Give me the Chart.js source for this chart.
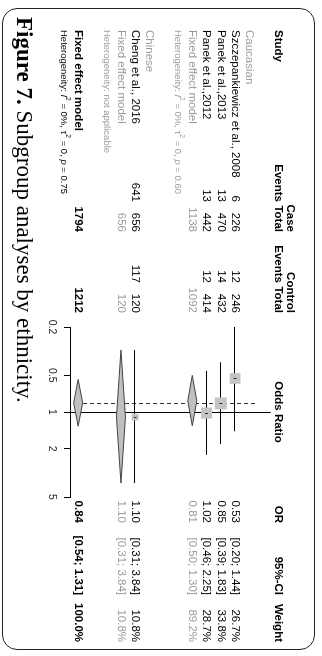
<!DOCTYPE html>
<html>
<head>
<meta charset="utf-8">
<script src="https://cdn.jsdelivr.net/npm/chart.js@4.4.1/dist/chart.umd.min.js"></script>
<style>
  html, body { margin: 0; padding: 0; background: #fff; overflow: hidden; }
  #page { position: absolute; left: 0; top: 0; width: 656px; height: 322px;
          transform-origin: 0 0; transform: translate(322px, 0) rotate(90deg); }
  #forest { position: absolute; left: 0; top: 0; }
  #frame { position: absolute; left: 8px; top: 7px; width: 642px; height: 313px; box-sizing: border-box;
           border: 1.5px solid #222; border-radius: 15px; }
  #caption { position: absolute; left: 17px; top: 286px; font-family: "Liberation Serif", serif;
             font-size: 23px; line-height: 23px; white-space: nowrap; color: #000; }
</style>
</head>
<body>
<div id="page">
  <canvas id="forest" width="656" height="322"></canvas>
  <div id="frame"></div>
  <div id="caption"><b>Figure 7.</b> Subgroup analyses by ethnicity.</div>
</div>
<script>
document.addEventListener("DOMContentLoaded", function () {

    // studies
    const studies = ["Szczepankiewicz et al., 2008", "Panek et al.,2013", "Panek et al.,2012", "Cheng et al., 2016"];
    const ethnicity = ["Caucasian", "Caucasian", "Caucasian", "Chinese"];
    const caseEvents = [6, 13, 13, 641];
    const caseTotal = [226, 470, 442, 656];
    const controlEvents = [12, 14, 12, 117];
    const controlTotal = [246, 432, 414, 120];
    const studyOR = [0.53, 0.85, 1.02, 1.10];
    const studyLower = [0.20, 0.39, 0.46, 0.31];
    const studyUpper = [1.44, 1.83, 2.25, 3.84];
    const studyWeight = [26.7, 33.8, 28.7, 10.8];

    // subgroups (fixed effect)
    const groups = ["Caucasian", "Chinese"];
    const groupCaseTotal = [1138, 656];
    const groupControlTotal = [1092, 120];
    const groupOR = [0.81, 1.10];
    const groupLower = [0.50, 0.31];
    const groupUpper = [1.30, 3.84];
    const groupWeight = [89.2, 10.8];
    const groupI2 = ["0%", null];
    const groupTau2 = ["0", null];
    const groupP = ["0.60", null];

    // overall (fixed effect)
    const totalCase = 1794;
    const totalControl = 1212;
    const totalOR = 0.84;
    const totalLower = 0.54;
    const totalUpper = 1.31;
    const totalWeight = 100.0;
    const totalI2 = "0%";
    const totalTau2 = "0";
    const totalP = "0.75";

    const xTicks = [0.2, 0.5, 1, 2, 5];
    const xTickLabels = ["0.2", "0.5", "1", "2", "5"];

    const SANS = '"Liberation Sans", Arial, sans-serif';
    const GREY = "#9a9a9a";

    // row order
    const rows = [];
    const studyRow = [];
    let r = 0;
    groups.forEach(function (g, gi) {
        rows.push({ kind: "group", r: r++, gi: gi });
        studies.forEach(function (s, i) {
            if (ethnicity[i] !== g) return;
            studyRow[i] = r;
            rows.push({ kind: "study", r: r++, i: i });
        });
        rows.push({ kind: "groupFE", r: r++, gi: gi });
        rows.push({ kind: "groupHet", r: r++, gi: gi });
        r++;
    });
    const totalRow = r;
    rows.push({ kind: "total", r: r++ });
    rows.push({ kind: "totalHet", r: r++ });

    const fmt2 = v => v.toFixed(2);
    const ciText = (lo, hi) => "[" + fmt2(lo) + "; " + fmt2(hi) + "]";
    const pct = v => v.toFixed(1) + "%";

    function text(ctx, str, x, y, align, font, color) {
        ctx.font = font;
        ctx.fillStyle = color;
        ctx.textAlign = align;
        ctx.textBaseline = "middle";
        ctx.fillText(str, x, y);
    }

    function hetText(ctx, x, y, i2, tau2, p, color) {
        const size = 9.5;
        let parts;
        if (i2 === null) {
            parts = [["Heterogeneity: not applicable", ""]];
        } else {
            parts = [["Heterogeneity: ", ""], ["I", "italic "], ["2", "sup"], [" = " + i2 + ", ", ""],
                     ["\u03c4", ""], ["2", "sup"], [" = " + tau2 + ", ", ""], ["p", "italic "], [" = " + p, ""]];
        }
        ctx.fillStyle = color;
        ctx.textAlign = "left";
        ctx.textBaseline = "middle";
        let cx = x;
        parts.forEach(function (pt) {
            if (pt[1] === "sup") {
                ctx.font = (size * 0.7) + "px " + SANS;
                ctx.fillText(pt[0], cx, y - 3.5);
            } else {
                ctx.font = pt[1] + size + "px " + SANS;
                ctx.fillText(pt[0], cx, y);
            }
            cx += ctx.measureText(pt[0]).width;
        });
    }

    function diamond(ctx, xs, yc, lo, est, hi, h) {
        ctx.beginPath();
        ctx.moveTo(xs.getPixelForValue(lo), yc);
        ctx.lineTo(xs.getPixelForValue(est), yc - h);
        ctx.lineTo(xs.getPixelForValue(hi), yc);
        ctx.lineTo(xs.getPixelForValue(est), yc + h);
        ctx.closePath();
        ctx.fillStyle = "#c0c0c0";
        ctx.fill();
        ctx.strokeStyle = "#444";
        ctx.lineWidth = 1;
        ctx.stroke();
    }

    // column anchors (right aligned unless noted)
    const COL = { study: 30, caseEv: 202, caseTot: 232, ctrlEv: 283, ctrlTot: 313, or: 523, ci: 595, w: 642 };

    const forestPlugin = {
        id: "forest",
        beforeDatasetsDraw: function (chart) {
            const ctx = chart.ctx;
            const xs = chart.scales.x;
            const ys = chart.scales.y;
            ctx.save();

            // line of no effect
            const x1 = Math.round(xs.getPixelForValue(1)) + 0.5;
            ctx.strokeStyle = "#000";
            ctx.lineWidth = 1;
            ctx.beginPath();
            ctx.moveTo(x1, ys.getPixelForValue(-1.5));
            ctx.lineTo(x1, chart.chartArea.bottom);
            ctx.stroke();

            // overall fixed effect estimate
            const xf = Math.round(xs.getPixelForValue(totalOR)) + 0.5;
            ctx.strokeStyle = "#333";
            ctx.setLineDash([4, 3]);
            ctx.beginPath();
            ctx.moveTo(xf, ys.getPixelForValue(-0.4));
            ctx.lineTo(xf, ys.getPixelForValue(totalRow - 0.35));
            ctx.stroke();
            ctx.setLineDash([]);

            // confidence intervals
            ctx.strokeStyle = "#000";
            studies.forEach(function (s, i) {
                const y = Math.round(ys.getPixelForValue(studyRow[i])) + 0.5;
                ctx.beginPath();
                ctx.moveTo(xs.getPixelForValue(studyLower[i]), y);
                ctx.lineTo(xs.getPixelForValue(studyUpper[i]), y);
                ctx.stroke();
            });

            // diamonds
            rows.forEach(function (row) {
                const y = ys.getPixelForValue(row.r);
                if (row.kind === "groupFE") {
                    const g = row.gi;
                    diamond(ctx, xs, y, groupLower[g], groupOR[g], groupUpper[g], 4.5);
                } else if (row.kind === "total") {
                    diamond(ctx, xs, y, totalLower, totalOR, totalUpper, 4.5);
                }
            });
            ctx.restore();
        },
        afterDatasetsDraw: function (chart) {
            const ctx = chart.ctx;
            const xs = chart.scales.x;
            const ys = chart.scales.y;
            ctx.save();
            ctx.strokeStyle = "#333";
            ctx.lineWidth = 1;
            studies.forEach(function (s, i) {
                const x = Math.round(xs.getPixelForValue(studyOR[i])) + 0.5;
                const y = ys.getPixelForValue(studyRow[i]);
                ctx.beginPath();
                ctx.moveTo(x, y - 1.5);
                ctx.lineTo(x, y + 1.5);
                ctx.stroke();
            });
            ctx.restore();
        },
        afterDraw: function (chart) {
            const ctx = chart.ctx;
            const xs = chart.scales.x;
            const ys = chart.scales.y;
            const reg = "11.5px " + SANS;
            const bold = "bold 11.5px " + SANS;
            ctx.save();

            // header
            const hy = ys.getPixelForValue(-2);
            const hy2 = hy - 12.5;
            text(ctx, "Study", COL.study, hy, "left", bold, "#000");
            text(ctx, "Case", COL.caseTot, hy2, "right", bold, "#000");
            text(ctx, "Events", COL.caseEv, hy, "right", bold, "#000");
            text(ctx, "Total", COL.caseTot, hy, "right", bold, "#000");
            text(ctx, "Control", COL.ctrlTot, hy2, "right", bold, "#000");
            text(ctx, "Events", COL.ctrlEv, hy, "right", bold, "#000");
            text(ctx, "Total", COL.ctrlTot, hy, "right", bold, "#000");
            text(ctx, "Odds Ratio", xs.getPixelForValue(1), hy, "center", bold, "#000");
            text(ctx, "OR", COL.or, hy, "right", bold, "#000");
            text(ctx, "95%-CI", COL.ci, hy, "right", bold, "#000");
            text(ctx, "Weight", COL.w, hy, "right", bold, "#000");

            rows.forEach(function (row) {
                const y = ys.getPixelForValue(row.r);
                if (row.kind === "group") {
                    text(ctx, groups[row.gi], COL.study, y, "left", reg, GREY);
                } else if (row.kind === "study") {
                    const i = row.i;
                    text(ctx, studies[i], COL.study, y, "left", reg, "#000");
                    text(ctx, String(caseEvents[i]), COL.caseEv, y, "right", reg, "#000");
                    text(ctx, String(caseTotal[i]), COL.caseTot, y, "right", reg, "#000");
                    text(ctx, String(controlEvents[i]), COL.ctrlEv, y, "right", reg, "#000");
                    text(ctx, String(controlTotal[i]), COL.ctrlTot, y, "right", reg, "#000");
                    text(ctx, fmt2(studyOR[i]), COL.or, y, "right", reg, "#000");
                    text(ctx, ciText(studyLower[i], studyUpper[i]), COL.ci, y, "right", reg, "#000");
                    text(ctx, pct(studyWeight[i]), COL.w, y, "right", reg, "#000");
                } else if (row.kind === "groupFE") {
                    const g = row.gi;
                    text(ctx, "Fixed effect model", COL.study, y, "left", reg, GREY);
                    text(ctx, String(groupCaseTotal[g]), COL.caseTot, y, "right", reg, GREY);
                    text(ctx, String(groupControlTotal[g]), COL.ctrlTot, y, "right", reg, GREY);
                    text(ctx, fmt2(groupOR[g]), COL.or, y, "right", reg, GREY);
                    text(ctx, ciText(groupLower[g], groupUpper[g]), COL.ci, y, "right", reg, GREY);
                    text(ctx, pct(groupWeight[g]), COL.w, y, "right", reg, GREY);
                } else if (row.kind === "groupHet") {
                    const g = row.gi;
                    hetText(ctx, COL.study, y, groupI2[g], groupTau2[g], groupP[g], GREY);
                } else if (row.kind === "total") {
                    text(ctx, "Fixed effect model", COL.study, y, "left", bold, "#000");
                    text(ctx, String(totalCase), COL.caseTot, y, "right", bold, "#000");
                    text(ctx, String(totalControl), COL.ctrlTot, y, "right", bold, "#000");
                    text(ctx, fmt2(totalOR), COL.or, y, "right", bold, "#000");
                    text(ctx, ciText(totalLower, totalUpper), COL.ci, y, "right", bold, "#000");
                    text(ctx, pct(totalWeight), COL.w, y, "right", bold, "#000");
                } else if (row.kind === "totalHet") {
                    hetText(ctx, COL.study, y, totalI2, totalTau2, totalP, "#000");
                }
            });
            ctx.restore();
        }
    };

    const canvas = document.getElementById("forest");
    const ctx = canvas.getContext("2d");

    new Chart(ctx, {
        type: "scatter",
        data: {
            datasets: [{
                label: "Studies",
                data: studies.map((s, i) => ({ x: studyOR[i], y: studyRow[i] })),
                pointStyle: "rect",
                pointRadius: studyWeight.map(w => 2.06 * Math.sqrt(w) / Math.SQRT2),
                pointHoverRadius: studyWeight.map(w => 2.06 * Math.sqrt(w) / Math.SQRT2),
                pointBorderWidth: 0,
                backgroundColor: "#c4c4c4",
                borderColor: "#c4c4c4"
            }]
        },
        options: {
            responsive: false,
            animation: false,
            devicePixelRatio: 1,
            layout: { padding: { left: 327, right: 159, top: 0, bottom: 0 } },
            plugins: { legend: { display: false }, tooltip: { enabled: false } },
            scales: {
                x: {
                    type: "logarithmic",
                    position: "bottom",
                    min: 0.2,
                    max: 5,
                    afterBuildTicks: function (scale) {
                        scale.ticks = xTicks.map(v => ({ value: v }));
                    },
                    afterFit: function (scale) {
                        scale.height = 71;
                    },
                    ticks: {
                        autoSkip: false,
                        maxRotation: 0,
                        padding: 6,
                        color: "#222",
                        font: { family: SANS, size: 10.5 },
                        callback: (value, index) => xTickLabels[index]
                    },
                    grid: { drawOnChartArea: false, drawTicks: true, tickLength: 7, color: "#000" },
                    border: { display: true, color: "#000" }
                },
                y: {
                    type: "linear",
                    reverse: true,
                    min: -4.5,
                    max: 12.5,
                    display: false
                }
            }
        },
        plugins: [forestPlugin]
    });

});
</script>
</body>
</html>
